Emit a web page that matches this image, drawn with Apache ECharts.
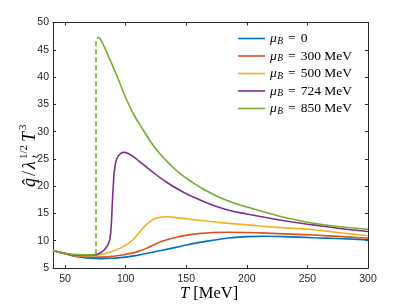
<!DOCTYPE html>
<html><head><meta charset="utf-8">
<script src="https://cdn.jsdelivr.net/npm/echarts@6/dist/echarts.min.js"></script>
<style>html,body{margin:0;padding:0;background:#fff}#c{width:407px;height:305px}</style>
</head><body><div id="c"></div>
<script>
// Tick labels
const xTicks = [50, 100, 150, 200, 250, 300];
const yTicks = [5, 10, 15, 20, 25, 30, 35, 40, 45, 50];
const seriesNames = ['0', '300 MeV', '500 MeV', '724 MeV', '850 MeV'];

// mu_B = 0
const T0 = [40, 50, 60, 70, 80, 90, 100, 110, 120, 130, 145, 160, 172, 185, 200, 215, 230, 255, 275, 300];
const V0 = [8.2, 7.6, 7.05, 6.8, 6.72, 6.8, 7.0, 7.35, 7.8, 8.25, 8.95, 9.65, 10.1, 10.5, 10.75, 10.82, 10.75, 10.55, 10.4, 10.15];
// mu_B = 300 MeV
const T300 = [40, 50, 60, 70, 80, 90, 100, 110, 120, 130, 145, 160, 172, 185, 200, 225, 255, 275, 300];
const V300 = [8.2, 7.6, 7.15, 6.98, 7.0, 7.15, 7.5, 8.0, 8.9, 9.9, 10.8, 11.3, 11.5, 11.55, 11.5, 11.3, 11.05, 10.8, 10.45];
// mu_B = 500 MeV
const T500 = [40, 50, 60, 70, 80, 90, 100, 105, 110, 115, 120, 125, 133, 145, 160, 175, 200, 225, 255, 275, 300];
const V500 = [8.2, 7.65, 7.25, 7.2, 7.5, 8.1, 9.2, 10.0, 11.2, 12.5, 13.5, 14.1, 14.4, 14.15, 13.75, 13.4, 12.9, 12.45, 12.0, 11.5, 10.9];
// mu_B = 724 MeV
const T724 = [40, 50, 60, 70, 75, 80, 84, 86, 87, 88, 89, 90, 91, 93, 96, 98.5, 102, 107, 112, 120, 130, 145, 160, 172, 185, 200, 227, 255, 275, 300];
const V724 = [8.2, 7.7, 7.35, 7.3, 7.4, 7.9, 8.8, 9.6, 10.4, 12.5, 17, 21, 23.3, 25.2, 26.0, 26.2, 26.0, 25.3, 24.4, 23.0, 21.3, 19.2, 17.6, 16.5, 15.6, 14.9, 13.8, 12.9, 12.3, 11.7];
// mu_B = 850 MeV (low-T branch, jump, high-T branch)
const T850a = [40, 50, 60, 70, 75.5];
const V850a = [8.2, 7.7, 7.45, 7.4, 7.5];
const T850jump = [75.5, 75.5];
const V850jump = [7.5, 47.1];
const T850b = [76.5, 77.5, 79, 83, 87, 93, 100, 107, 114.5, 121, 128, 137, 145, 155, 165, 175, 187, 200, 213, 227, 240, 255, 275, 300];
const V850b = [47.0, 47.3, 47.0, 45.2, 43.2, 40.1, 36.2, 33.0, 30.3, 28.0, 26.0, 23.9, 22.3, 20.7, 19.35, 18.2, 17.1, 16.2, 15.35, 14.5, 13.85, 13.2, 12.6, 12.1];

const colors = ['#0072BD', '#D95319', '#EDB120', '#7E2F8E', '#77AC30'];
const zip = (a, b) => a.map((t, i) => [t, b[i]]);

const chart = echarts.init(document.getElementById('c'), null, {renderer: 'canvas'});
const axisColor = '#262626';
const lineW = 1.6;
function ls(name, data, color) {
  return {name: name, type: 'line', data: data, showSymbol: false, symbol: 'none',
    smooth: 0.5, lineStyle: {color: color, width: lineW}, itemStyle: {color: color}, z: 3};
}
const legendNames = seriesNames.map(s => 'μB = ' + s);
const series = [
  ls(legendNames[0], zip(T0, V0), colors[0]),
  ls(legendNames[1], zip(T300, V300), colors[1]),
  ls(legendNames[2], zip(T500, V500), colors[2]),
  ls(legendNames[3], zip(T724, V724), colors[3]),
  ls(legendNames[4], zip(T850b, V850b), colors[4]),
  ls('low850', zip(T850a, V850a), colors[4]),
  {name: 'jump850', type: 'line', data: zip(T850jump, V850jump), showSymbol: false, symbol: 'none',
   lineStyle: {color: colors[4], width: lineW, type: [5, 3]}, z: 3}
];
const tickLabel = {color: axisColor, fontFamily: 'Liberation Sans', fontSize: 10.5};
const serif = 'Liberation Serif';
function lab(x, y, text, size, italic) {
  return {type: 'text', x: x, y: y,
    style: {text: text, fontFamily: serif, fontSize: size, fontStyle: italic ? 'italic' : 'normal',
            fill: '#000', verticalAlign: 'middle', align: 'left'}};
}
chart.setOption({
  animation: false,
  grid: {left: 53, right: 39, top: 22.5, bottom: 37},
  xAxis: [
    {type: 'value', min: 40, max: 300, interval: 50, position: 'bottom',
     axisLine: {onZero: false, lineStyle: {color: axisColor, width: 1}},
     axisTick: {inside: true, length: 3, customValues: xTicks, lineStyle: {color: axisColor}},
     axisLabel: Object.assign({margin: 6, customValues: xTicks}, tickLabel),
     splitLine: {show: false}},
    {type: 'value', min: 40, max: 300, interval: 50, position: 'top',
     axisLine: {onZero: false, lineStyle: {color: axisColor, width: 1}},
     axisTick: {inside: true, length: 3, customValues: xTicks, lineStyle: {color: axisColor}},
     axisLabel: {show: false}, splitLine: {show: false}}
  ],
  yAxis: [
    {type: 'value', min: 5, max: 50, interval: 5, position: 'left',
     axisLine: {show: true, onZero: false, lineStyle: {color: axisColor, width: 1}},
     axisTick: {show: true, inside: true, length: 3, lineStyle: {color: axisColor}},
     axisLabel: Object.assign({margin: 4}, tickLabel),
     splitLine: {show: false}},
    {type: 'value', min: 5, max: 50, interval: 5, position: 'right',
     axisLine: {show: true, onZero: false, lineStyle: {color: axisColor, width: 1}},
     axisTick: {show: true, inside: true, length: 3, lineStyle: {color: axisColor}},
     axisLabel: {show: false}, splitLine: {show: false}}
  ],
  legend: {
    data: legendNames, orient: 'vertical', left: 238, top: 31,
    itemWidth: 27, itemHeight: 1.6, itemGap: 2.5, icon: 'rect', padding: 0,
    formatter: function (name) {
      const v = name.split(' = ')[1];
      return '{m|μ}{b|B}{e|=}{t|' + v + '}';
    },
    textStyle: {
      color: '#000', fontFamily: serif, fontSize: 13.5, lineHeight: 14,
      rich: {
        m: {fontFamily: serif, fontStyle: 'italic', fontSize: 13.5, color: '#000', lineHeight: 14},
        b: {fontFamily: serif, fontStyle: 'italic', fontSize: 9.5, color: '#000', padding: [5, 0, 0, 0.5], lineHeight: 14},
        e: {fontFamily: serif, fontSize: 13.5, color: '#000', padding: [0, 5, 0, 5], lineHeight: 14},
        t: {fontFamily: serif, fontSize: 13.5, color: '#000', lineHeight: 14}
      }
    }
  },
  graphic: [
    {type: 'text', left: 180, top: 285,
     style: {rich: {i: {fontFamily: serif, fontStyle: 'italic', fontSize: 16.5, fill: '#000'},
                    r: {fontFamily: serif, fontSize: 16.5, fill: '#000'}},
             text: '{i|T}{r| [MeV]}'}},
    {type: 'group', x: 30, y: 187, rotation: Math.PI / 2,
     children: [
       lab(0, 0, 'q\u0302', 18, true),
       lab(11, 0, '/', 18, false),
       lab(18, 0, 'λ', 18, true),
       lab(29, 5, 't', 11, true),
       lab(28, -6, '1/2', 11, false),
       lab(45, 0, 'T', 18, true),
       lab(57, -7, '3', 11, false)
     ]}
  ],
  series: series
});
</script></body></html>
